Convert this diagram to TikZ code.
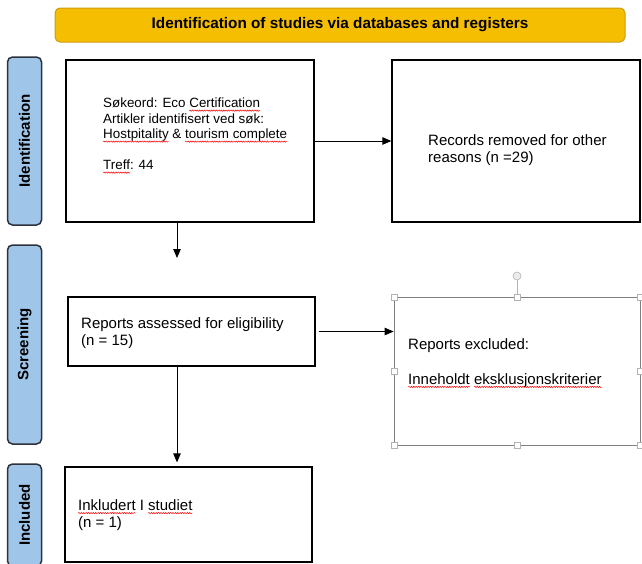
\documentclass[tikz,border=0pt]{standalone}
\usepackage{fontspec}
\setmainfont{Liberation Sans}
\usetikzlibrary{arrows,arrows.meta,shapes,decorations.pathmorphing}
\definecolor{barorange}{RGB}{246,190,0}
\definecolor{barline}{RGB}{205,155,20}
\definecolor{sideblue}{RGB}{159,197,232}
\definecolor{sideline}{RGB}{45,50,60}
\newcommand{\spell}[1]{\tikz[baseline=(w.base)]{\node[inner sep=0pt, outer sep=0pt] (w) {#1}; \draw[overlay, red, line width=0.5pt, decorate, decoration={snake, amplitude=0.6pt, segment length=2.4pt}] ([yshift=-2.8pt]w.base west) -- ([yshift=-2.8pt]w.base east);}}

\begin{document}
\begin{tikzpicture}[x=1pt, y=-1pt,
    flowbox/.style={rectangle, draw, line width=1.3pt, inner sep=0pt},
    sidebox/.style={rectangle, draw=sideline, line width=1.5pt, fill=sideblue, rounded corners=5pt, inner sep=0pt, minimum height=34pt, rotate=90, font=\fontsize{15}{17}\selectfont\bfseries},
    boxtext/.style={anchor=west, align=left, inner sep=0pt, font=\fontsize{15}{17.25}\selectfont},
    handle/.style={rectangle, draw=gray!60, fill=white, line width=0.6pt, minimum size=6pt, inner sep=0pt}]
    \useasboundingbox (0,0) rectangle (642,563);

    \node[rectangle, draw=barline, fill=barorange, rounded corners=5pt, line width=1pt, minimum width=570pt, minimum height=34pt, font=\fontsize{15.3}{17}\selectfont\bfseries] (bar) at (340,25) {Identification of studies via databases and registers};

    \node[sidebox, minimum width=168pt] (sideid) at (24.5,141) {Identification};
    \node[sidebox, minimum width=199pt] (sidescr) at (24.5,344.5) {Screening};
    \node[sidebox, minimum width=102pt] (sideinc) at (24.5,515) {Included};

    \node[flowbox, minimum width=248pt, minimum height=162pt] (b1) at (190,141) {};
    \node[flowbox, minimum width=248pt, minimum height=162pt] (b2) at (516,141) {};
    \node[flowbox, minimum width=247pt, minimum height=69pt] (b3) at (191.5,331.5) {};
    \node[rectangle, draw=gray, line width=0.8pt, minimum width=246pt, minimum height=148pt] (b4) at (517,371) {};
    \node[flowbox, minimum width=247pt, minimum height=95pt] (b5) at (188.5,514.5) {};

    \node[boxtext, font=\fontsize{13.4}{15.5}\selectfont] (t1) at (103,134) {Søkeord: Eco \spell{Certification}\\ Artikler identifisert ved søk:\\ \spell{Hostpitality} \& \spell{tourism complete}\\[15.5pt] \spell{Treff}: 44};
    \node[boxtext] (t2) at (428,150) {Records removed for other\\ reasons (n =29)};
    \node[boxtext] (t3) at (81,333) {Reports assessed for eligibility\\ (n = 15)};
    \node[boxtext] (t4) at (408,363) {Reports excluded:\\[17.25pt] \spell{Inneholdt} \spell{eksklusjonskriterier}};
    \node[boxtext] (t5) at (78,515) {\spell{Inkludert} I \spell{studiet}\\ (n = 1)};

    % selection handles of the excluded box
    \foreach \hx/\hy [count=\i] in {394/297, 517/297, 640/297, 394/371, 640/371, 394/445, 517/445, 640/445}
        \node[handle] (h\i) at (\hx,\hy) {};
    \node[circle, draw=gray!60, fill=gray!15, line width=0.6pt, minimum size=8pt, inner sep=0pt] (rot) at (517,276) {};
    \draw[gray!60, line width=0.6pt] (rot) -- (h2);

    \coordinate (ax) at (177,0);
    \coordinate (c1) at (177,258);
    \draw[->, >={Triangle[length=9pt,width=7.5pt]}, line width=0.8pt] (b1) -- (b2);
    \draw[->, >={Triangle[length=9pt,width=7.5pt]}, line width=0.8pt] (b1.south -| ax) -- (c1);
    \draw[->, >={Triangle[length=9pt,width=7.5pt]}, line width=0.8pt] ([xshift=3pt]b3.east) -- (b3.east -| b4.west);
    \draw[->, >={Triangle[length=9pt,width=7.5pt]}, line width=0.8pt, shorten >=4pt] (b3.south -| ax) -- (b5.north -| ax);

\end{tikzpicture}
\end{document}
